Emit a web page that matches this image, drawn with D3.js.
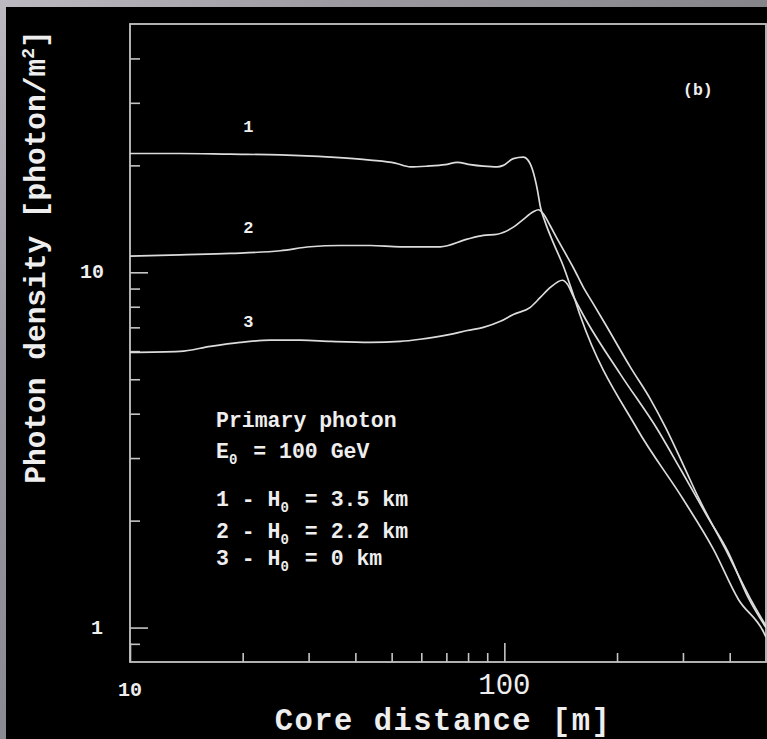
<!DOCTYPE html>
<html>
<head>
<meta charset="utf-8">
<script src="https://cdn.jsdelivr.net/npm/d3@7"></script>
<style>
  html, body { margin: 0; padding: 0; background: #000; }
  svg { display: block; }
  text { font-family: "Liberation Mono", "Courier New", monospace; font-weight: bold; fill: #eeeeee; }
</style>
</head>
<body>
<svg id="chart" width="767" height="739"></svg>
<script>
// Lateral distribution of Cherenkov photon density, three observation levels
const curve1Dist = [10, 13.6, 18.5, 25.2, 34.3, 43.8, 51.1, 56.1, 62.3, 69.5, 74.9, 81.1, 87.9, 95.8, 99.4, 105.7, 112.4, 115.2, 118.8, 122.5, 124.8, 128.7, 135.2, 143.8, 150.2, 159.7, 226.8, 301, 362, 422, 493, 500];
const curve1Dens = [21.6, 21.6, 21.5, 21.4, 21.1, 20.7, 20.3, 19.8, 19.9, 20.1, 20.4, 20.1, 19.9, 19.8, 20.0, 20.9, 21.1, 20.8, 19.5, 17.1, 15.3, 13.8, 12.1, 10.4, 9.13, 7.52, 3.61, 2.29, 1.66, 1.20, 0.97, 0.94];

const curve2Dist = [10, 13.6, 18.5, 25.2, 30.3, 36.4, 43.8, 52.7, 67.4, 79.6, 87.9, 95.8, 105.7, 112.4, 119.5, 123.3, 127.2, 132.7, 138.6, 145.6, 152.9, 162.6, 171.9, 186.2, 217.3, 245.7, 269.5, 302.9, 330, 390, 455, 500];
const curve2Dens = [11.1, 11.2, 11.3, 11.5, 11.8, 11.9, 11.9, 11.8, 11.8, 12.4, 12.7, 12.8, 13.4, 14.1, 14.8, 15.0, 14.6, 13.5, 12.4, 11.3, 10.3, 9.07, 8.23, 7.14, 5.40, 4.39, 3.66, 2.82, 2.32, 1.66, 1.20, 1.01];

const curve3Dist = [10, 13.6, 16.4, 19.7, 23.7, 28.5, 34.3, 43.8, 52.7, 59.6, 64.6, 71.7, 79.6, 87.9, 97.6, 105.7, 117.3, 124.8, 132.7, 142.9, 147.4, 152.9, 162.6, 204.3, 256.5, 295.6, 349, 395, 449, 500];
const curve3Dens = [5.95, 5.99, 6.19, 6.35, 6.44, 6.44, 6.39, 6.35, 6.39, 6.48, 6.56, 6.69, 6.86, 7.0, 7.28, 7.61, 7.97, 8.5, 9.07, 9.5, 9.25, 8.56, 7.57, 5.16, 3.61, 2.79, 2.05, 1.64, 1.21, 1.0];

const curveNames = ["1", "2", "3"];
const curveLabelDist = [20.7, 20.7, 20.7];
const curveLabelDens = [24.8, 12.9, 7.02];

const xMinorTicks = [20, 30, 40, 50, 60, 70, 80, 90, 200, 300, 400];
const xMajorTicks = [10, 100];
const yMinorTicks = [0.9, 2, 3, 4, 5, 6, 7, 8, 9, 20, 30, 40];
const yMajorTicks = [1, 10];

const legendLines = [
  ["Primary photon"],
  ["E", "0", " = 100 GeV"],
  null,
  ["1 - H", "0", " = 3.5 km"],
  ["2 - H", "0", " = 2.2 km"],
  ["3 - H", "0", " = 0 km"]
];

const svg = d3.select("#chart");
const W = 767, H = 739;
const plot = { left: 130, right: 766, top: 24, bottom: 662 };

// Gray surround with gradients
const defs = svg.append("defs");
const gTop = defs.append("linearGradient").attr("id", "gTop").attr("x1", 0).attr("x2", 1).attr("y1", 0).attr("y2", 0);
gTop.append("stop").attr("offset", 0).attr("stop-color", "#bdb9c1");
gTop.append("stop").attr("offset", 0.45).attr("stop-color", "#9c9aa0");
gTop.append("stop").attr("offset", 1).attr("stop-color", "#86868a");
const gLeft = defs.append("linearGradient").attr("id", "gLeft").attr("x1", 0).attr("x2", 0).attr("y1", 0).attr("y2", 1);
gLeft.append("stop").attr("offset", 0).attr("stop-color", "#bdb9c1");
gLeft.append("stop").attr("offset", 0.5).attr("stop-color", "#9a98a2");
gLeft.append("stop").attr("offset", 1).attr("stop-color", "#8a8a92");

svg.append("rect").attr("x", 0).attr("y", 0).attr("width", W).attr("height", 7).attr("fill", "url(#gTop)");
svg.append("rect").attr("x", 0).attr("y", 0).attr("width", 6).attr("height", H).attr("fill", "url(#gLeft)");
svg.append("rect").attr("x", 6).attr("y", 7).attr("width", W - 6).attr("height", H - 7).attr("fill", "#000");

const x = d3.scaleLog().domain([10, 500]).range([plot.left, plot.right]);
const y = d3.scaleLog().domain([0.8, 50]).range([plot.bottom, plot.top]);

const axisColor = "#c4c4c4";

// Ticks pointing into the plot
function styleAxis(g) {
  g.select(".domain").remove();
  g.selectAll(".tick line").attr("stroke", axisColor).attr("stroke-width", 1.6);
  g.selectAll(".tick text").remove();
}
svg.append("g").attr("transform", `translate(0,${plot.bottom})`)
  .call(d3.axisBottom(x).tickValues(xMinorTicks).tickSize(-9)).call(styleAxis);
svg.append("g").attr("transform", `translate(0,${plot.bottom})`)
  .call(d3.axisBottom(x).tickValues(xMajorTicks).tickSize(-19)).call(styleAxis);
svg.append("g").attr("transform", `translate(${plot.left},0)`)
  .call(d3.axisLeft(y).tickValues(yMinorTicks).tickSize(-10)).call(styleAxis);
svg.append("g").attr("transform", `translate(${plot.left},0)`)
  .call(d3.axisLeft(y).tickValues(yMajorTicks).tickSize(-18)).call(styleAxis);

// Plot frame
svg.append("rect")
  .attr("x", plot.left).attr("y", plot.top)
  .attr("width", plot.right - plot.left).attr("height", plot.bottom - plot.top)
  .attr("fill", "none").attr("stroke", axisColor).attr("stroke-width", 1.8);

// Tick labels
svg.append("text").attr("x", x(10)).attr("y", 696).attr("text-anchor", "middle")
  .style("font-size", "20px").text("10");
svg.append("text").attr("x", x(100)).attr("y", 694).attr("text-anchor", "middle")
  .style("font-size", "29px").style("font-weight", "normal").text("100");
svg.append("text").attr("x", 104).attr("y", y(10) + 6).attr("text-anchor", "end")
  .style("font-size", "20px").text("10");
svg.append("text").attr("x", 103).attr("y", y(1) + 6).attr("text-anchor", "end")
  .style("font-size", "20px").text("1");

// Axis titles
svg.append("text").attr("x", 443).attr("y", 730).attr("text-anchor", "middle")
  .style("font-size", "30.5px").style("letter-spacing", "1.5px").text("Core distance [m]");
const yTitle = svg.append("text")
  .attr("transform", "translate(45,257) rotate(-90)")
  .attr("text-anchor", "middle")
  .style("font-size", "29.5px");
yTitle.append("tspan").text("Photon density [photon/m");
yTitle.append("tspan").attr("dy", -11).style("font-size", "18px").text("2");
yTitle.append("tspan").attr("dy", 11).text("]");

// Curves
const clip = defs.append("clipPath").attr("id", "plotClip");
clip.append("rect").attr("x", plot.left).attr("y", plot.top)
  .attr("width", plot.right - plot.left).attr("height", plot.bottom - plot.top);

const series = [
  curve1Dist.map((d, i) => [d, curve1Dens[i]]),
  curve2Dist.map((d, i) => [d, curve2Dens[i]]),
  curve3Dist.map((d, i) => [d, curve3Dens[i]])
];
const line = d3.line().x(d => x(d[0])).y(d => y(d[1])).curve(d3.curveMonotoneX);
svg.append("g").attr("clip-path", "url(#plotClip)")
  .selectAll("path").data(series).join("path")
  .attr("d", line)
  .attr("fill", "none")
  .attr("stroke", "#dcdcdc")
  .attr("stroke-width", 1.7)
  .attr("stroke-linejoin", "round");

// Curve labels
svg.selectAll("text.clabel").data(curveNames).join("text")
  .attr("class", "clabel")
  .attr("x", (d, i) => x(curveLabelDist[i]))
  .attr("y", (d, i) => y(curveLabelDens[i]))
  .attr("text-anchor", "middle")
  .style("font-size", "17px")
  .text(d => d);

// Panel tag
svg.append("text").attr("x", 683).attr("y", 95).style("font-size", "16.5px").text("(b)");

// Legend block
const legendBaselines = [427, 458, 0, 506, 538, 565];
legendLines.forEach((parts, i) => {
  if (!parts) return;
  const t = svg.append("text").attr("x", 216).attr("y", legendBaselines[i]).style("font-size", "21.5px");
  parts.forEach((p, j) => {
    if (j === 1) {
      t.append("tspan").attr("dy", 6).style("font-size", "14px").text(p);
    } else if (j === 2) {
      t.append("tspan").attr("dy", -6).attr("dx", 3).text(p);
    } else {
      t.append("tspan").text(p);
    }
  });
});
</script>
</body>
</html>
